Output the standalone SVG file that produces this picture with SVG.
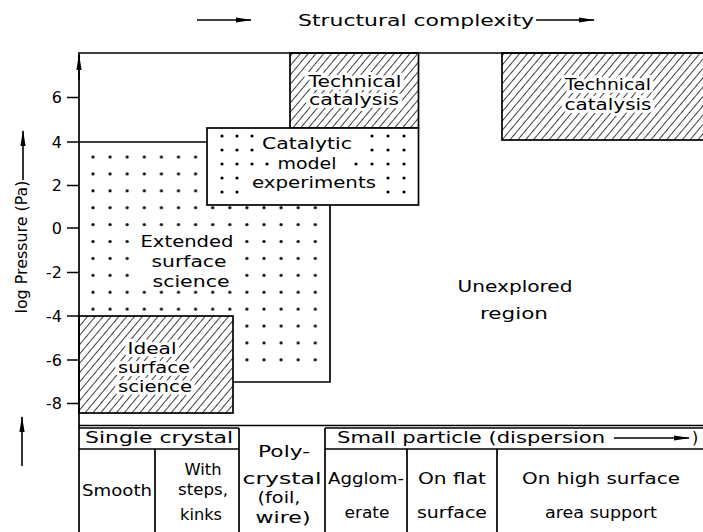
<svg xmlns="http://www.w3.org/2000/svg" width="703" height="532" viewBox="0 0 703 532">
  <style>
    text { font-family: "DejaVu Sans", "Liberation Sans", sans-serif; font-size: 16px; fill: #000; }
    .s { font-size: 15px; }
    .c { text-anchor: middle; }
    .tick { text-anchor: end; font-size: 16px; }
    .halo { stroke: #fff; stroke-width: 6; stroke-linejoin: round; paint-order: stroke; }
    .edge { fill: none; stroke: #000; stroke-width: 1.7; }
    .arrow { fill: none; stroke: #000; stroke-width: 1.6; marker-end: url(#head); }
  </style>
  <defs>
    <!-- diagonal hatching on a white ground -->
    <pattern id="hatch" width="6" height="6" patternUnits="userSpaceOnUse" patternTransform="rotate(40)">
      <rect width="6" height="6" fill="#fff"/>
      <line x1="0" y1="0" x2="0" y2="6" stroke="#000" stroke-width="1.5"/>
    </pattern>
    <!-- regular dot grid -->
    <pattern id="dots" x="84.45" y="148.55" width="17.1" height="16.9" patternUnits="userSpaceOnUse">
      <circle cx="8.55" cy="8.45" r="1.6" fill="#000"/>
    </pattern>
    <marker id="head" viewBox="0 0 16 6" refX="15" refY="3" markerWidth="16" markerHeight="6" markerUnits="userSpaceOnUse" orient="auto">
      <path d="M0,0.4 L16,3 L0,5.6 z" fill="#000"/>
    </marker>
  </defs>

  <rect width="703" height="532" fill="#fff"/>

  <!-- title -->
  <g id="title">
    <text class="c" x="416" y="26" textLength="236" lengthAdjust="spacingAndGlyphs">Structural complexity</text>
  </g>

  <!-- extended surface science: dotted region -->
  <g id="extended-surface-science">
    <path d="M79,142 H207 V205 H330 V370 H79 Z" fill="url(#dots)"/>
    <rect x="136" y="233" width="102" height="50" fill="#fff"/>
    <path class="edge" d="M330,205 V382 H233"/>
    <text class="c s" x="187" y="247" textLength="93" lengthAdjust="spacingAndGlyphs">Extended</text>
    <text class="c s" x="189" y="267" textLength="75" lengthAdjust="spacingAndGlyphs">surface</text>
    <text class="c s" x="191" y="287" textLength="77" lengthAdjust="spacingAndGlyphs">science</text>
  </g>

  <!-- technical catalysis, middle -->
  <g id="technical-catalysis-1">
    <rect x="290" y="53" width="128.5" height="75" class="edge" style="fill:url(#hatch)"/>
    <text class="c s halo" x="355" y="87" textLength="93" lengthAdjust="spacingAndGlyphs">Technical</text>
    <text class="c s halo" x="354" y="105" textLength="90" lengthAdjust="spacingAndGlyphs">catalysis</text>
  </g>

  <!-- technical catalysis, right -->
  <g id="technical-catalysis-2">
    <rect x="502" y="53" width="205" height="87" class="edge" style="fill:url(#hatch)"/>
    <text class="c s halo" x="608" y="90" textLength="86" lengthAdjust="spacingAndGlyphs">Technical</text>
    <text class="c s halo" x="608" y="110" textLength="87" lengthAdjust="spacingAndGlyphs">catalysis</text>
  </g>

  <!-- catalytic model experiments -->
  <g id="catalytic-model-experiments">
    <rect x="207" y="128" width="211.5" height="77" class="edge" style="fill:#fff"/>
    <g fill="#000">
      <circle cx="222" cy="136" r="1.6"/><circle cx="237" cy="136" r="1.6"/><circle cx="252" cy="136" r="1.6"/>
      <circle cx="222" cy="150" r="1.6"/><circle cx="237" cy="150" r="1.6"/><circle cx="252" cy="150" r="1.6"/>
      <circle cx="222" cy="164" r="1.6"/><circle cx="237" cy="164" r="1.6"/><circle cx="252" cy="164" r="1.6"/><circle cx="267" cy="164" r="1.6"/>
      <circle cx="222" cy="178" r="1.6"/><circle cx="237" cy="178" r="1.6"/>
      <circle cx="222" cy="192" r="1.6"/><circle cx="237" cy="192" r="1.6"/>
      <circle cx="372" cy="136" r="1.6"/><circle cx="388" cy="136" r="1.6"/><circle cx="404" cy="136" r="1.6"/>
      <circle cx="372" cy="150" r="1.6"/><circle cx="388" cy="150" r="1.6"/><circle cx="404" cy="150" r="1.6"/>
      <circle cx="356" cy="164" r="1.6"/><circle cx="372" cy="164" r="1.6"/><circle cx="388" cy="164" r="1.6"/><circle cx="404" cy="164" r="1.6"/>
      <circle cx="388" cy="178" r="1.6"/><circle cx="404" cy="178" r="1.6"/>
      <circle cx="388" cy="192" r="1.6"/><circle cx="404" cy="192" r="1.6"/>
    </g>
    <text class="c s" x="307" y="149" textLength="90" lengthAdjust="spacingAndGlyphs">Catalytic</text>
    <text class="c s" x="307" y="169" textLength="59" lengthAdjust="spacingAndGlyphs">model</text>
    <text class="c s" x="314" y="188" textLength="124" lengthAdjust="spacingAndGlyphs">experiments</text>
  </g>

  <!-- ideal surface science -->
  <g id="ideal-surface-science">
    <rect x="79" y="316" width="154" height="97" class="edge" style="fill:url(#hatch)"/>
    <text class="c s halo" x="152" y="354" textLength="49" lengthAdjust="spacingAndGlyphs">Ideal</text>
    <text class="c s halo" x="154" y="373" textLength="72" lengthAdjust="spacingAndGlyphs">surface</text>
    <text class="c s halo" x="155" y="392" textLength="74" lengthAdjust="spacingAndGlyphs">science</text>
  </g>

  <!-- unexplored region -->
  <g id="unexplored-region">
    <text class="c" x="515" y="292" textLength="115" lengthAdjust="spacingAndGlyphs">Unexplored</text>
    <text class="c" x="514" y="319" textLength="68" lengthAdjust="spacingAndGlyphs">region</text>
  </g>

  <!-- pressure axis and frame -->
  <g id="pressure-axis">
    <path class="edge" d="M79,532 V53 H703"/>
    <path class="edge" d="M67,97.5 H79 M67,142 H207 M67,185.5 H79 M67,228 H79 M67,272.5 H79 M67,316 H79 M67,360 H79 M67,403.5 H79"/>
    <text class="tick" x="62" y="103">6</text>
    <text class="tick" x="62" y="147.5">4</text>
    <text class="tick" x="62" y="191">2</text>
    <text class="tick" x="62" y="233.5">0</text>
    <text class="tick" x="62" y="278">-2</text>
    <text class="tick" x="62" y="321.5">-4</text>
    <text class="tick" x="62" y="365.5">-6</text>
    <text class="tick" x="62" y="409">-8</text>
    <text class="c s" transform="translate(27,247) rotate(-90)" textLength="133" lengthAdjust="spacingAndGlyphs">log Pressure (Pa)</text>
  </g>

  <!-- sample classification table -->
  <g id="sample-table">
    <path class="edge" d="M79,425.5 H703 M79,428 H239 M325,428 H703 M79,449 H239 M325,449 H703 M239,428 V532 M325,428 V532 M155,449 V532 M407,449 V532 M497,449 V532"/>
    <text class="c" x="159" y="443" textLength="148" lengthAdjust="spacingAndGlyphs">Single crystal</text>
    <text x="337" y="443" textLength="268" lengthAdjust="spacingAndGlyphs">Small particle (dispersion</text>
    <text x="692" y="443">)</text>
    <text class="c s" x="117" y="496" textLength="70" lengthAdjust="spacingAndGlyphs">Smooth</text>
    <text class="c s" x="203" y="475" textLength="37" lengthAdjust="spacingAndGlyphs">With</text>
    <text class="c s" x="203" y="495" textLength="50" lengthAdjust="spacingAndGlyphs">steps,</text>
    <text class="c s" x="201" y="520" textLength="42" lengthAdjust="spacingAndGlyphs">kinks</text>
    <text class="c s" x="284" y="457" textLength="52" lengthAdjust="spacingAndGlyphs">Poly-</text>
    <text class="c s" x="282" y="484" textLength="79" lengthAdjust="spacingAndGlyphs">crystal</text>
    <text class="c s" x="279" y="503" textLength="43" lengthAdjust="spacingAndGlyphs">(foil,</text>
    <text class="c s" x="283" y="523" textLength="55" lengthAdjust="spacingAndGlyphs">wire)</text>
    <text class="c s" x="366" y="484" textLength="76" lengthAdjust="spacingAndGlyphs">Agglom-</text>
    <text class="c s" x="367" y="518" textLength="45" lengthAdjust="spacingAndGlyphs">erate</text>
    <text class="c s" x="452" y="484" textLength="68" lengthAdjust="spacingAndGlyphs">On flat</text>
    <text class="c s" x="452" y="518" textLength="70" lengthAdjust="spacingAndGlyphs">surface</text>
    <text class="c s" x="601" y="484" textLength="158" lengthAdjust="spacingAndGlyphs">On high surface</text>
    <text class="c s" x="601" y="518" textLength="112" lengthAdjust="spacingAndGlyphs">area support</text>
  </g>

  <!-- direction arrows -->
  <g id="connectors">
    <path class="arrow" d="M197,20 H251"/>
    <path class="arrow" d="M536,20 H594"/>
    <path class="arrow" d="M79,80 V55"/>
    <path class="arrow" d="M23,180 V131"/>
    <path class="arrow" d="M22,466 V417"/>
    <path class="arrow" d="M614,438 H689"/>
  </g>
</svg>
